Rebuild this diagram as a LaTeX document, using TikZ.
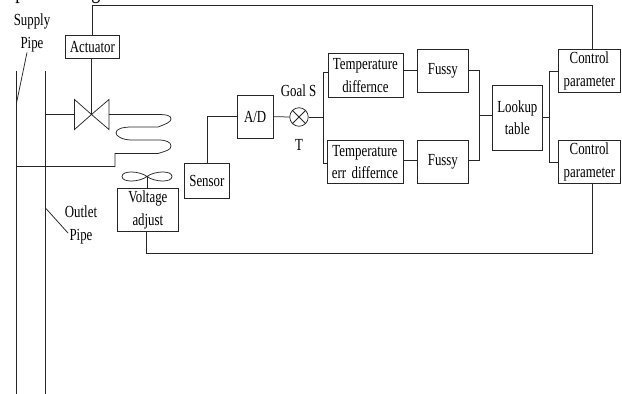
\documentclass[tikz,border=0pt]{standalone}
\usepackage{fontspec}
\setmainfont[FakeStretch=0.76]{Liberation Serif}
\newcommand{\px}{0.0352778cm}
\tikzset{
  x=\px,y=-\px,
  ln/.style={draw=black!85,line width=0.75pt},
  bx/.style={draw=black!85,line width=0.75pt,fill=white,inner sep=0pt,align=center,anchor=north west,font=\fontsize{17}{22.5}\selectfont},
  lb/.style={inner sep=0pt,align=center,font=\fontsize{17}{23}\selectfont},
}
\newcommand{\bxn}[6]{\node[bx,minimum width=#4*\px-#2*\px,minimum height=#5*\px-#3*\px,text width=#4*\px-#2*\px] (#1) at (#2,#3) {#6};}
\begin{document}
\begin{tikzpicture}
\useasboundingbox (0,0) rectangle (622,394);
\clip (0,0) rectangle (622,394);
% clipped text at the top edge
\node[anchor=base,inner sep=0pt,font=\fontsize{24}{24}\selectfont] (cutp) at (20,-1) {p};
\node[anchor=base,inner sep=0pt,font=\fontsize{24}{24}\selectfont] (cutg) at (96,-1) {g};
% pipes
\coordinate (s1) at (16.5,71); \coordinate (s2) at (16.5,394);
\coordinate (o1) at (45.5,71); \coordinate (o2) at (45.5,394);
\draw[ln] (s1)--(s2);
\draw[ln] (o1)--(o2);
% boxes
\bxn{act}{65}{35}{119}{58}{Actuator}
\bxn{volt}{117}{188}{178}{231}{Voltage\\adjust}
\bxn{sens}{184}{163}{229}{198}{Sensor}
\bxn{ad}{236.5}{94.5}{273}{138}{A/D}
\bxn{t1}{327.5}{53}{402.5}{97}{Temperature\\differnce}
\bxn{t2}{326.5}{140}{402.5}{183}{Temperature\\err differnce}
\bxn{f1}{417}{49}{468}{92}{Fussy}
\bxn{f2}{417}{140}{468}{183}{Fussy}
\bxn{look}{492}{84.5}{542}{150}{Lookup\\table}
\bxn{c1}{558}{49}{620}{92}{Control\\parameter}
\bxn{c2}{558}{140}{620}{183}{Control\\parameter}
% sum junction
\node[circle,draw=black!85,line width=0.75pt,minimum size=18.5*\px,inner sep=0pt,fill=white] (sum) at (299,117) {};
\draw[ln] (sum.north west)--(sum.south east) (sum.north east)--(sum.south west);
% valve
\coordinate (vc) at (91.5,114.5);
\draw[ln] (vc)--(74.5,99.5)--(74.5,129.5)--cycle;
\draw[ln] (vc)--(109,99.5)--(109,129.5)--cycle;
\draw[ln] (act.south -| vc)--(vc);
\draw[ln] (o1 |- vc)--(74.5,114.5);
% top feedback
\draw[ln] (act.north -| 92,0)--(92,5.5)--(592,5.5)--(c1.north -| 592,0);
% coil
\draw[ln] (109,114.5)--(158,114.5) .. controls (168,114.5) and (171,116) .. (171,119)
  .. controls (171,122) and (166,124) .. (158,127)--(132,127)
  .. controls (122,127) and (116,129) .. (116,133)
  .. controls (116,136) and (122,140) .. (132,140)--(158,140)
  .. controls (166,140) and (171,142) .. (171,146)
  .. controls (171,150) and (166,151) .. (158,153.5)--(115,153.5)--(115,166.5)--(s1 |- 0,166.5);
% fan
\coordinate (fc) at (147,176.5);
\draw[ln] (fc) .. controls (140,171) and (122,170) .. (122,176.5) .. controls (122,183) and (140,182) .. (fc);
\draw[ln] (fc) .. controls (154,171) and (172,170) .. (172,176.5) .. controls (172,183) and (154,182) .. (fc);
\draw[ln] (fc)--(volt.north -| fc);
% voltage feedback
\draw[ln] (146,231)--(146,253.5)--(592,253.5)--(592,183);
% signal path
\draw[ln] (sens.north)--(sens.north |- ad.west)--(ad.west);
\draw[ln] (ad.east)--(sum.west);
\coordinate (b1) at (323.5,117);
\draw[ln] (sum.east)--(b1);
\draw[ln] (327.5,72)--(323.5,72)--(323.5,163)--(326.5,163);
\draw[ln] (402.5,70)--(f1.west |- 0,70);
\draw[ln] (402.5,160.5)--(f2.west |- 0,160.5);
\draw[ln] (468,70)--(479.5,70)--(479.5,160.5)--(468,160.5);
\draw[ln] (479.5,115)--(492,115);
\draw[ln] (542,117)--(549.5,117);
\draw[ln] (558,71.5)--(549.5,71.5)--(549.5,162.5)--(558,162.5);
% labels
\node[lb] (sp) at (32,32.5) {Supply\\Pipe};
\node[lb] (op) at (81,225) {Outlet\\Pipe};
\draw[ln] (27,52.5)--(s1 |- 0,103);
\draw[ln] (o1 |- 0,208)--(68,233);
\node[lb] (g) at (298.5,91) {Goal S};
\node[lb] (tt) at (299,145) {T};
\end{tikzpicture}
\end{document}
